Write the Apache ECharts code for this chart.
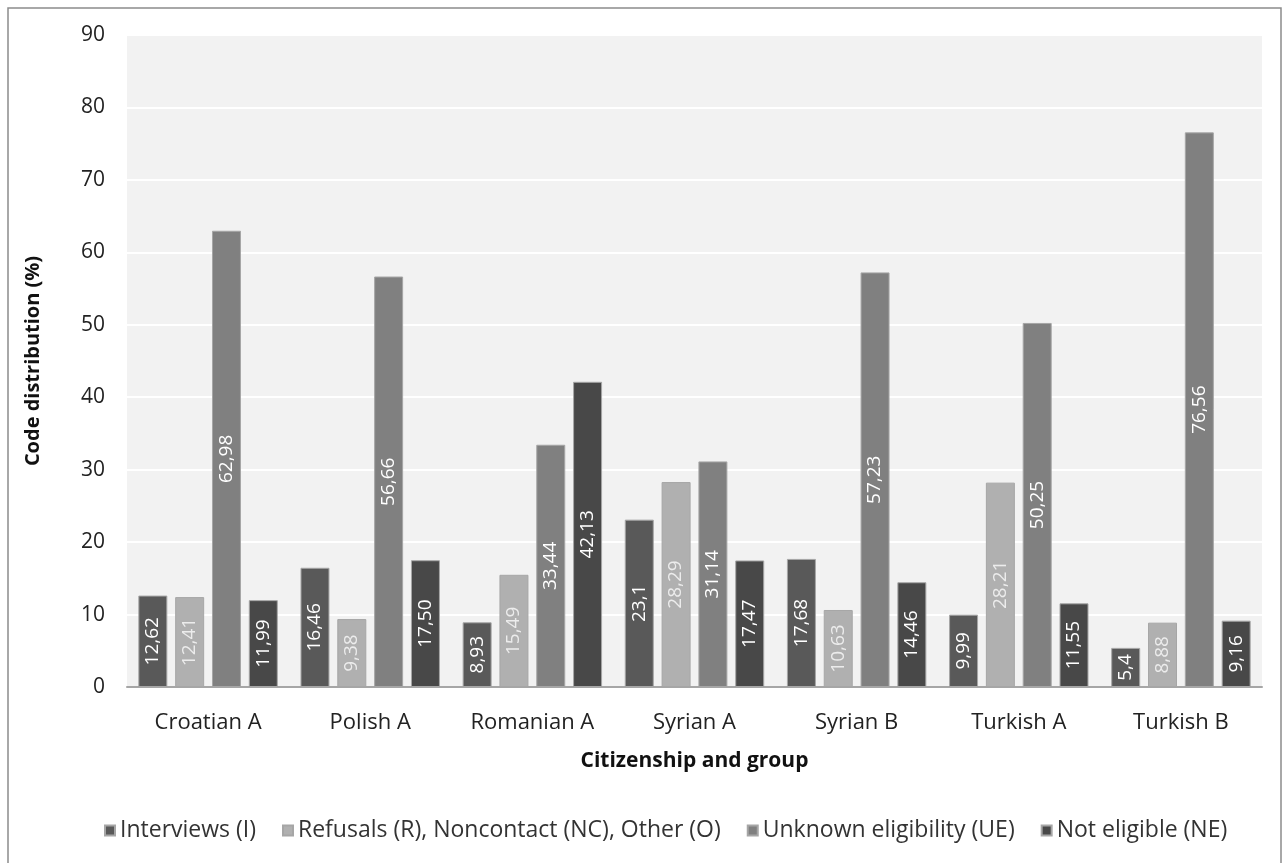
<!DOCTYPE html>
<html>
<head>
<meta charset="utf-8">
<script src="https://cdn.jsdelivr.net/npm/echarts@6/dist/echarts.min.js"></script>
<style>
html,body{margin:0;padding:0;background:#fff;}
#chart{width:1288px;height:863px;}
</style>
</head>
<body>
<div id="chart"></div>
<script>
const categories = ['Croatian A', 'Polish A', 'Romanian A', 'Syrian A', 'Syrian B', 'Turkish A', 'Turkish B'];
const seriesNames = ['Interviews (I)', 'Refusals (R), Noncontact (NC), Other (O)', 'Unknown eligibility (UE)', 'Not eligible (NE)'];
const interviews = [12.62, 16.46, 8.93, 23.1, 17.68, 9.99, 5.4];
const refusals = [12.41, 9.38, 15.49, 28.29, 10.63, 28.21, 8.88];
const unknownEligibility = [62.98, 56.66, 33.44, 31.14, 57.23, 50.25, 76.56];
const notEligible = [11.99, 17.50, 42.13, 17.47, 14.46, 11.55, 9.16];
const yTicks = [0, 10, 20, 30, 40, 50, 60, 70, 80, 90];

const FONT = 'Open Sans';
const colors = ['#595959', '#b0b0b0', '#808080', '#484848'];
const labelColors = ['#ffffff', '#ececec', '#ffffff', '#ffffff'];
const dataSets = [interviews, refusals, unknownEligibility, notEligible];
const fixedDecimals = [false, true, true, true];

const chart = echarts.init(document.getElementById('chart'));
const series = dataSets.map((d, i) => ({
  name: seriesNames[i],
  type: 'bar',
  data: d,
  barGap: '27%',
  barCategoryGap: '14%',
  itemStyle: { color: colors[i], borderColor: '#a6a6a6', borderWidth: 1 },
  label: {
    show: true,
    position: 'inside',
    rotate: 90,
    color: labelColors[i],
    fontFamily: FONT,
    fontSize: 19,
    formatter: p => (fixedDecimals[i] ? p.value.toFixed(2) : String(p.value)).replace('.', ',')
  },
  emphasis: { disabled: true }
}));

chart.setOption({
  animation: false,
  backgroundColor: '#ffffff',
  textStyle: { fontFamily: FONT },
  graphic: [{
    type: 'rect',
    shape: { x: 8, y: 8, width: 1273, height: 870 },
    style: { fill: 'none', stroke: '#8c8c8c', lineWidth: 1.5 },
    silent: true,
    z: -1
  }],
  grid: {
    left: 127, right: 26, top: 35, bottom: 176,
    show: true, backgroundColor: '#f2f2f2', borderWidth: 0
  },
  legend: {
    data: seriesNames,
    bottom: 16,
    left: 99,
    itemWidth: 10,
    itemHeight: 10,
    itemGap: 26,
    icon: 'rect',
    textStyle: { fontFamily: FONT, fontSize: 23, color: '#333' }
  },
  xAxis: {
    type: 'category',
    data: categories,
    name: 'Citizenship and group',
    nameLocation: 'middle',
    nameGap: 64,
    nameTextStyle: { fontFamily: FONT, fontSize: 21, fontWeight: 'bold', color: '#111' },
    axisLine: { lineStyle: { color: '#a6a6a6', width: 2 } },
    axisTick: { show: false },
    axisLabel: { margin: 25, fontFamily: FONT, fontSize: 22, color: '#222' }
  },
  yAxis: {
    type: 'value',
    min: yTicks[0],
    max: yTicks[yTicks.length - 1],
    interval: 10,
    name: 'Code distribution (%)',
    nameLocation: 'middle',
    nameRotate: 90,
    nameGap: 84,
    nameTextStyle: { fontFamily: FONT, fontSize: 20, fontWeight: 'bold', color: '#111' },
    axisLine: { show: false },
    axisTick: { show: false },
    splitLine: { lineStyle: { color: '#ffffff', width: 2 } },
    axisLabel: { margin: 22, fontFamily: FONT, fontSize: 21, color: '#222' }
  },
  series: series
});
</script>
</body>
</html>
